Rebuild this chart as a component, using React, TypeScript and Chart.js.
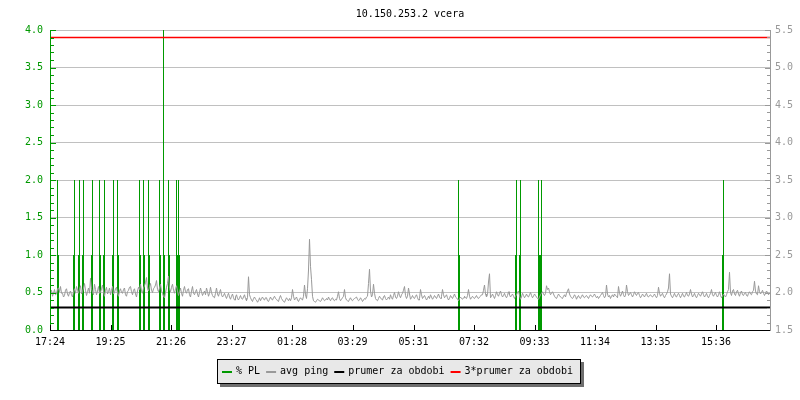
import React, { useEffect, useRef } from "react";
import { Chart, registerables } from "chart.js";

Chart.register(...registerables);

// ---------------- data ----------------
const TITLE = "10.150.253.2 vcera";
const START_LABEL = "17:24";
const SPAN_MINUTES = 1440;
const X_LABELS = ["17:24", "19:25", "21:26", "23:27", "01:28", "03:29", "05:31", "07:32", "09:33", "11:34", "13:35", "15:36"];

// left axis (% PL) and right axis (avg ping) ranges
const PL_MIN = 0;
const PL_MAX = 4;
const PING_MIN = 1.5;
const PING_MAX = 5.5;
const TICK_STEP = 0.5;

// % PL events: [start minute after 17:24, values of consecutive 2-minute samples]
const PL_STEP = 2;
const PL_EVENTS: [number, number[]][] = [
  [14, [2, 1]],
  [46, [1, 2]],
  [56, [1, 2]],
  [64, [1, 2]],
  [82, [1, 2]],
  [98, [2, 1]],
  [106, [1, 2]],
  [124, [1, 2]],
  [134, [2, 1]],
  [178, [2, 1]],
  [186, [2, 1]],
  [196, [2, 1]],
  [218, [2, 1]],
  [226, [5, 1]],
  [236, [2, 1]],
  [252, [2, 1, 2, 1]],
  [816, [2, 1]],
  [930, [1, 2]],
  [938, [1, 2]],
  [976, [2, 1, 1, 2]],
  [1344, [1, 2]],
];

// avg ping, one sample every 2 minutes (right axis units)
const PING_STEP = 2;
const PING = [
  2.00, 2.03, 1.95, 1.99, 2.04, 1.97, 1.98, 2.05, 2.06, 2.01, 2.08, 1.99, 1.99, 1.94, 1.96, 2.03, 2.05, 1.98, 1.95, 2.00,
  2.02, 1.97, 1.94, 2.01, 2.05, 1.99, 2.08, 2.03, 1.99, 2.05, 2.09, 1.98, 2.01, 2.06, 2.12, 2.03, 1.96, 2.01, 2.06, 1.99,
  2.19, 2.05, 2.00, 1.97, 2.11, 2.04, 1.97, 2.02, 2.08, 1.99, 2.00, 2.05, 2.10, 2.01, 1.95, 2.03, 2.07, 1.98, 2.01, 2.06,
  1.97, 2.03, 2.08, 1.98, 2.00, 2.05, 2.07, 1.99, 1.95, 2.02, 2.05, 2.00, 1.99, 2.04, 2.06, 1.97, 1.95, 2.01, 2.03, 2.07,
  2.08, 2.01, 1.97, 2.03, 2.05, 1.98, 1.94, 2.02, 2.07, 2.04, 2.11, 2.02, 1.99, 2.06, 2.09, 2.13, 2.20, 2.05, 2.02, 2.08,
  2.12, 2.03, 2.00, 2.05, 2.07, 2.10, 2.16, 2.04, 2.01, 2.06, 2.11, 2.02, 1.99, 1.95, 1.93, 2.00, 2.07, 2.12, 2.22, 2.05,
  2.01, 2.07, 2.11, 2.03, 1.99, 2.05, 2.09, 2.02, 1.96, 2.01, 2.06, 1.99, 1.95, 2.03, 2.08, 2.01, 1.99, 2.04, 2.05, 1.97,
  1.94, 2.02, 2.08, 1.99, 1.97, 2.01, 2.04, 1.98, 1.94, 2.00, 2.06, 2.01, 1.96, 1.99, 2.02, 1.97, 2.06, 2.01, 1.95, 1.99,
  2.07, 2.00, 1.96, 1.94, 1.93, 1.99, 2.06, 1.98, 1.95, 2.00, 2.04, 1.97, 1.94, 1.96, 1.99, 1.95, 1.92, 1.96, 1.99, 1.94,
  1.91, 1.95, 1.98, 1.93, 1.90, 1.94, 1.97, 1.92, 1.90, 1.93, 1.96, 1.92, 1.91, 1.94, 1.97, 1.92, 1.89, 1.93, 2.21, 1.97,
  1.93, 1.90, 1.88, 1.92, 1.94, 1.91, 1.90, 1.87, 1.89, 1.93, 1.89, 1.92, 1.94, 1.91, 1.90, 1.93, 1.93, 1.89, 1.88, 1.91,
  1.94, 1.91, 1.90, 1.93, 1.95, 1.92, 1.91, 1.89, 1.88, 1.93, 1.96, 1.92, 1.90, 1.88, 1.87, 1.90, 1.93, 1.91, 1.89, 1.92,
  1.89, 1.93, 2.04, 1.95, 1.90, 1.92, 1.94, 1.90, 1.88, 1.91, 1.93, 1.91, 1.90, 1.95, 2.10, 1.97, 1.92, 2.05, 2.30, 2.71,
  2.35, 2.17, 1.95, 1.89, 1.88, 1.87, 1.89, 1.91, 1.90, 1.89, 1.88, 1.90, 1.93, 1.91, 1.89, 1.90, 1.92, 1.90, 1.94, 1.91,
  1.89, 1.92, 1.93, 1.90, 1.89, 1.91, 1.90, 1.95, 2.01, 1.92, 1.89, 1.91, 1.93, 1.95, 2.04, 1.93, 1.90, 1.89, 1.88, 1.91,
  1.93, 1.90, 1.89, 1.91, 1.92, 1.93, 1.94, 1.91, 1.89, 1.90, 1.93, 1.91, 1.88, 1.90, 1.92, 1.91, 1.94, 1.95, 2.12, 2.31,
  2.02, 1.94, 1.97, 2.11, 1.99, 1.92, 1.90, 1.89, 1.92, 1.95, 1.93, 1.91, 1.90, 1.94, 1.96, 1.92, 1.90, 1.92, 1.94, 1.91,
  1.97, 1.93, 1.91, 1.96, 2.00, 1.94, 1.92, 1.95, 2.01, 1.96, 1.93, 1.97, 1.99, 2.03, 2.08, 1.96, 1.92, 1.95, 2.06, 1.98,
  1.91, 1.93, 1.96, 1.93, 1.92, 1.95, 1.97, 1.93, 1.90, 1.92, 2.04, 1.97, 1.92, 1.94, 1.96, 1.93, 1.90, 1.92, 1.95, 1.92,
  1.97, 1.94, 1.91, 1.93, 1.96, 1.94, 1.92, 1.95, 1.98, 1.94, 1.92, 1.95, 2.04, 1.97, 1.93, 1.95, 1.97, 1.93, 1.90, 1.92,
  1.96, 1.94, 1.92, 1.95, 1.98, 1.94, 1.93, 1.91, 1.89, 1.92, 1.94, 1.92, 1.91, 1.93, 1.95, 1.93, 1.92, 1.96, 2.04, 1.95,
  1.91, 1.93, 1.95, 1.93, 1.92, 1.94, 1.96, 1.93, 1.92, 1.94, 1.95, 1.97, 1.97, 2.03, 2.10, 1.98, 1.94, 1.97, 2.14, 2.25,
  1.93, 1.95, 1.98, 1.95, 1.92, 1.96, 2.01, 1.97, 1.95, 1.99, 2.02, 1.97, 1.94, 1.96, 1.99, 1.95, 1.93, 1.96, 2.01, 1.97,
  1.94, 1.96, 1.98, 1.95, 1.92, 1.95, 1.97, 2.00, 2.02, 1.96, 1.91, 1.94, 1.99, 1.96, 1.93, 1.95, 1.98, 1.95, 1.94, 1.97,
  2.00, 1.96, 1.93, 1.95, 1.98, 1.96, 1.94, 1.92, 1.91, 1.94, 1.97, 1.99, 2.01, 1.98, 1.96, 1.99, 2.09, 2.04, 2.06, 2.01,
  1.97, 1.99, 2.01, 1.98, 1.95, 1.93, 1.92, 1.95, 1.98, 1.96, 1.94, 1.93, 1.92, 1.95, 1.97, 1.94, 1.99, 2.02, 2.05, 1.98,
  1.95, 1.93, 1.92, 1.94, 1.97, 1.95, 1.91, 1.94, 1.96, 1.93, 1.92, 1.95, 1.97, 1.94, 1.93, 1.95, 1.96, 1.94, 1.92, 1.95,
  1.97, 1.95, 1.94, 1.96, 1.98, 1.95, 1.93, 1.95, 1.92, 1.94, 1.96, 1.98, 2.00, 1.96, 1.93, 1.95, 2.10, 1.98, 1.94, 1.96,
  1.92, 1.95, 1.97, 1.94, 1.98, 1.96, 1.95, 1.93, 2.08, 1.99, 1.95, 1.98, 2.02, 1.97, 1.94, 1.96, 2.10, 2.01, 1.96, 1.98,
  2.00, 1.97, 1.94, 1.97, 2.01, 1.98, 1.96, 1.99, 2.00, 1.96, 1.93, 1.95, 1.98, 1.96, 1.94, 1.97, 1.99, 1.95, 1.94, 1.96,
  1.97, 1.95, 1.94, 1.96, 1.98, 1.95, 1.93, 1.96, 2.07, 1.99, 1.95, 1.97, 1.99, 1.95, 1.93, 1.96, 1.98, 2.01, 2.06, 2.25,
  1.98, 1.95, 1.93, 1.96, 1.99, 1.95, 1.94, 1.97, 1.99, 1.96, 1.93, 1.96, 1.99, 1.95, 1.94, 1.97, 2.00, 1.96, 1.95, 1.98,
  2.04, 1.98, 1.94, 1.96, 1.99, 1.95, 1.93, 1.96, 1.99, 1.97, 1.95, 1.98, 2.01, 1.97, 1.94, 1.96, 1.99, 1.95, 1.93, 1.96,
  1.99, 2.04, 1.97, 1.95, 1.98, 2.00, 1.96, 1.94, 1.97, 2.01, 1.96, 1.93, 1.95, 1.98, 1.96, 1.94, 1.97, 2.01, 2.04, 2.27,
  2.00, 1.96, 2.02, 2.04, 1.98, 1.96, 2.01, 2.03, 1.98, 1.95, 2.00, 2.02, 1.97, 1.96, 1.99, 2.00, 1.96, 1.95, 1.99, 2.01,
  1.98, 1.97, 2.01, 2.03, 2.15, 2.02, 1.98, 1.97, 2.09, 2.01, 1.98, 2.00, 2.03, 1.99, 1.96, 1.99, 2.02, 2.00, 1.97, 1.99,
];

// period average of the ping (right axis units)
const AVERAGE = 1.8;
const AVERAGE_FACTOR = 3;

const LABELS = ["% PL", "avg ping", "prumer za obdobi", "3*prumer za obdobi"];

// ---------------- style ----------------
const FONT = "'DejaVu Sans Mono', 'Liberation Mono', monospace";
const GREEN = "#009900";
const GRAY = "#999999";
const GRID = "#c0c0c0";
const RED = "#ff0000";

function toMinute(label: string): number {
  const [h, m] = label.split(":").map(Number);
  const [sh, sm] = START_LABEL.split(":").map(Number);
  return (h * 60 + m - (sh * 60 + sm) + 1440) % 1440;
}
const X_TICKS = X_LABELS.map(toMinute);

function buildPL() {
  const pts: { x: number; y: number }[] = [{ x: 0, y: 0 }];
  for (const [start, vals] of PL_EVENTS) {
    vals.forEach((v, k) => pts.push({ x: start + k * PL_STEP, y: v }));
    pts.push({ x: start + vals.length * PL_STEP, y: 0 });
  }
  pts.push({ x: SPAN_MINUTES, y: 0 });
  return pts;
}

function buildPing() {
  return PING.map((v, i) => ({ x: i * PING_STEP, y: v }));
}

const crispPlugin = {
  id: "crisp",
  beforeDatasetDraw(chart: any, args: any) {
    if (args.index === 1) {
      chart.ctx.save();
      chart.ctx.translate(0.5, 0);
    }
  },
  afterDatasetDraw(chart: any, args: any) {
    if (args.index === 1) chart.ctx.restore();
  },
};

const decorPlugin = {
  id: "decor",
  afterDraw(chart: any) {
    const { ctx, chartArea } = chart;
    const { left, right, top, bottom } = chartArea;
    const y = chart.scales.y;
    const y1 = chart.scales.y1;
    const x = chart.scales.x;
    ctx.save();
    ctx.lineWidth = 1;

    const line = (x0: number, y0: number, x1: number, y1p: number) => {
      ctx.beginPath();
      ctx.moveTo(x0, y0);
      ctx.lineTo(x1, y1p);
      ctx.stroke();
    };

    // left axis (green)
    ctx.strokeStyle = GREEN;
    line(left + 0.5, top, left + 0.5, bottom + 1);
    for (let k = 0; k <= Math.round((PL_MAX - PL_MIN) * 10); k++) {
      const v = PL_MIN + k / 10;
      const py = Math.round(y.getPixelForValue(v)) + 0.5;
      const len = k % 5 === 0 ? 5 : 3;
      line(left, py, left + len + 1, py);
    }

    // right axis (gray)
    ctx.strokeStyle = GRAY;
    line(right + 0.5, top, right + 0.5, bottom + 1);
    for (let k = 0; k <= Math.round((PING_MAX - PING_MIN) * 10); k++) {
      const v = PING_MIN + k / 10;
      const py = Math.round(y1.getPixelForValue(v)) + 0.5;
      const len = k % 5 === 0 ? 5 : 3;
      line(right - len, py, right + 1, py);
    }

    // x axis (black) with inward ticks
    ctx.strokeStyle = "#000";
    line(left, bottom + 0.5, right, bottom + 0.5);
    for (const t of x.ticks) {
      const px = Math.round(x.getPixelForValue(t.value)) + 0.5;
      line(px, bottom - 5, px, bottom);
    }

    // title
    ctx.fillStyle = "#000";
    ctx.font = `10px ${FONT}`;
    ctx.textAlign = "center";
    ctx.textBaseline = "alphabetic";
    ctx.fillText(TITLE, (left + right) / 2, 17);

    // legend box
    const ds = chart.data.datasets;
    ctx.textAlign = "left";
    const sw = 10;
    const gapSw = 4;
    const gapItem = 6;
    const padL = 5;
    const padR = 7;
    let w = padL + padR;
    ds.forEach((d: any, i: number) => {
      w += sw + gapSw + ctx.measureText(d.label).width;
      if (i < ds.length - 1) w += gapItem;
    });
    w = Math.round(w);
    const bx = Math.round(398 - w / 2);
    const by = 359;
    const bh = 24;
    ctx.fillStyle = "#6e6e6e";
    ctx.fillRect(bx + 3, by + 3, w + 1, bh + 1);
    ctx.fillStyle = "#e8e8e8";
    ctx.fillRect(bx, by, w, bh);
    ctx.strokeStyle = "#000";
    ctx.strokeRect(bx + 0.5, by + 0.5, w, bh);
    let cx = bx + padL;
    ds.forEach((d: any) => {
      ctx.fillStyle = d.borderColor;
      ctx.fillRect(cx, 371, sw, 2);
      cx += sw + gapSw;
      ctx.fillStyle = "#000";
      ctx.fillText(d.label, cx, 374);
      cx += ctx.measureText(d.label).width + gapItem;
    });

    ctx.restore();
  },
};

export default function App() {
  const ref = useRef<HTMLCanvasElement | null>(null);

  useEffect(() => {
    if (!ref.current) return;
    Chart.defaults.font.family = FONT;
    Chart.defaults.font.size = 10;

    const chart = new Chart(ref.current, {
      type: "line",
      data: {
        datasets: [
          {
            label: LABELS[0],
            data: buildPL(),
            yAxisID: "y",
            stepped: true,
            borderWidth: 0,
            borderColor: GREEN,
            backgroundColor: GREEN,
            fill: "origin",
            pointRadius: 0,
            order: 4,
          },
          {
            label: LABELS[1],
            data: buildPing(),
            yAxisID: "y1",
            borderWidth: 1,
            borderColor: GRAY,
            backgroundColor: GRAY,
            fill: false,
            tension: 0,
            pointRadius: 0,
            order: 3,
          },
          {
            label: LABELS[2],
            data: [
              { x: 0, y: AVERAGE },
              { x: SPAN_MINUTES, y: AVERAGE },
            ],
            yAxisID: "y1",
            borderWidth: 2,
            borderColor: "#000000",
            backgroundColor: "#000000",
            fill: false,
            pointRadius: 0,
            order: 2,
          },
          {
            label: LABELS[3],
            data: [
              { x: 0, y: AVERAGE * AVERAGE_FACTOR },
              { x: SPAN_MINUTES, y: AVERAGE * AVERAGE_FACTOR },
            ],
            yAxisID: "y1",
            borderWidth: 1.5,
            borderColor: RED,
            backgroundColor: RED,
            fill: false,
            pointRadius: 0,
            order: 1,
          },
        ],
      } as any,
      options: {
        animation: false,
        responsive: false,
        maintainAspectRatio: false,
        devicePixelRatio: 1,
        layout: { padding: { top: 30, left: 0, right: 0, bottom: 0 } },
        plugins: {
          legend: { display: false },
          title: { display: false },
          tooltip: { enabled: false },
        },
        scales: {
          x: {
            type: "linear",
            min: 0,
            max: SPAN_MINUTES,
            position: "bottom",
            grid: { display: false, drawTicks: false },
            border: { display: false },
            afterBuildTicks: (s: any) => {
              s.ticks = X_TICKS.map((v) => ({ value: v }));
            },
            afterFit: (s: any) => {
              s.height = 70;
            },
            ticks: {
              autoSkip: false,
              maxRotation: 0,
              minRotation: 0,
              padding: 6,
              color: "#000000",
              font: { family: FONT, size: 10 },
              callback: (_v: any, i: number) => X_LABELS[i],
            },
          },
          y: {
            type: "linear",
            position: "left",
            min: PL_MIN,
            max: PL_MAX,
            grid: { color: GRID, drawTicks: false, lineWidth: 1 },
            border: { display: false },
            afterFit: (s: any) => {
              s.width = 50;
            },
            ticks: {
              stepSize: TICK_STEP,
              padding: 7,
              color: GREEN,
              font: { family: FONT, size: 10 },
              callback: (v: any) => Number(v).toFixed(1),
            },
          },
          y1: {
            type: "linear",
            position: "right",
            min: PING_MIN,
            max: PING_MAX,
            grid: { display: false, drawTicks: false },
            border: { display: false },
            afterFit: (s: any) => {
              s.width = 30;
            },
            ticks: {
              stepSize: TICK_STEP,
              padding: 5,
              color: GRAY,
              font: { family: FONT, size: 10 },
              callback: (v: any) => Number(v).toFixed(1),
            },
          },
        },
      } as any,
      plugins: [crispPlugin, decorPlugin],
    });
    return () => chart.destroy();
  }, []);

  return (
    <div style={{ position: "absolute", left: 0, top: 0, width: 800, height: 400, background: "#fff" }}>
      <canvas ref={ref} width={800} height={400} style={{ display: "block", width: 800, height: 400 }} />
    </div>
  );
}
